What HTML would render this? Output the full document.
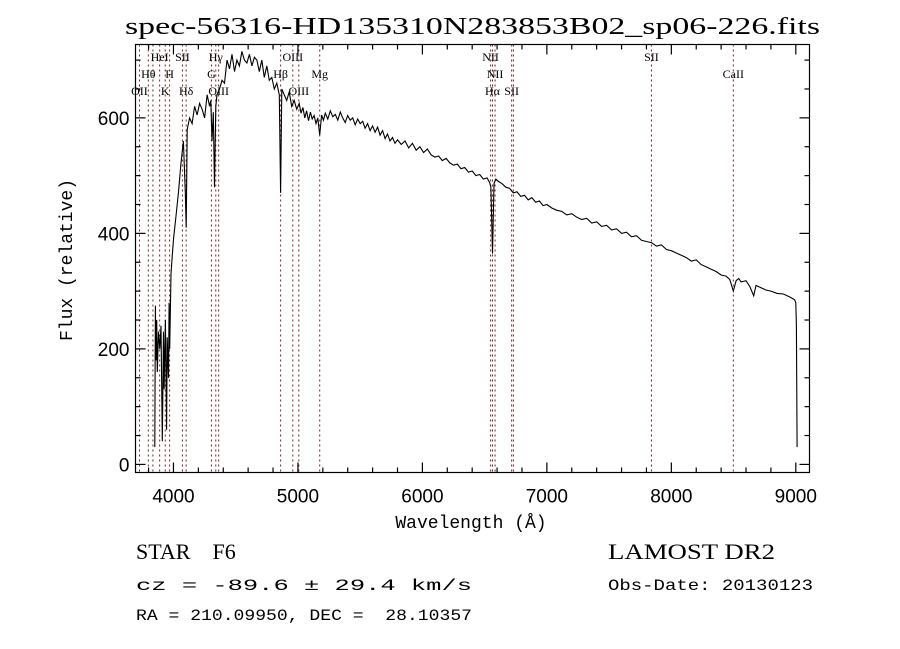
<!DOCTYPE html>
<html><head><meta charset="utf-8"><style>
html,body{margin:0;padding:0;background:#fff;width:900px;height:649px;overflow:hidden}
svg{display:block}
text{fill:#000;white-space:pre}
</style></head><body>
<svg id="chart" width="900" height="649" viewBox="0 0 900 649" xmlns="http://www.w3.org/2000/svg">
<rect width="900" height="649" fill="#fff"/>
<text x="125" y="34" font-family="Liberation Serif, serif" font-size="24" textLength="695" lengthAdjust="spacingAndGlyphs">spec-56316-HD135310N283853B02_sp06-226.fits</text>
<g id="lines"></g>
<g id="labels" font-family="Liberation Serif, serif" font-size="12"></g>
<path id="spec" fill="none" stroke="#000" stroke-width="1.1"/>
<rect x="135.5" y="44.5" width="674" height="428" fill="none" stroke="#000" stroke-width="1.2"/>
<g id="ticks" stroke="#000" stroke-width="1.2"></g>
<g id="ticklabels" font-family="Liberation Sans, sans-serif" font-size="19"></g>
<text x="471" y="528" text-anchor="middle" font-family="Liberation Mono, monospace" font-size="18">Wavelength (Å)</text>
<text transform="translate(72,260) rotate(-90)" text-anchor="middle" font-family="Liberation Mono, monospace" font-size="18">Flux (relative)</text>
<text x="136" y="559" font-family="Liberation Serif, serif" font-size="22" xml:space="preserve">STAR    F6</text>
<text x="136" y="590" font-family="Liberation Mono, monospace" font-size="16" textLength="336" lengthAdjust="spacingAndGlyphs">cz = -89.6 ± 29.4 km/s</text>
<text x="136" y="620" font-family="Liberation Mono, monospace" font-size="16" textLength="336" lengthAdjust="spacingAndGlyphs" xml:space="preserve">RA = 210.09950, DEC =  28.10357</text>
<text x="608" y="559" font-family="Liberation Serif, serif" font-size="22" textLength="167" lengthAdjust="spacingAndGlyphs">LAMOST DR2</text>
<text x="608" y="590" font-family="Liberation Mono, monospace" font-size="16" textLength="205" lengthAdjust="spacingAndGlyphs">Obs-Date: 20130123</text>
</svg>
<script>
const wavelengths=[3850,3855,3860,3865,3870,3880,3890,3900,3910,3920,3925,3935,3945,3950,3960,3965,3970,3980,3990,4000,4020,4040,4060,4080,4095,4102,4110,4130,4150,4170,4190,4210,4230,4250,4270,4290,4300,4310,4320,4330,4340,4350,4370,4390,4410,4430,4450,4470,4490,4510,4530,4550,4570,4590,4610,4630,4650,4670,4690,4710,4730,4750,4770,4790,4810,4830,4850,4861,4870,4890,4910,4930,4950,4970,4990,
5010,5025,5040,5055,5070,5085,5100,5115,5130,5145,
5160,5175,5190,5205,5220,5240,5260,5280,5300,5320,
5340,5360,5380,5400,5420,5440,5460,5480,5500,5520,
5540,5560,5580,5600,5620,5640,5660,5680,5700,5720,
5740,5760,5780,5800,5830,5860,5890,5920,5950,5980,
6010,6040,6070,6100,6130,6160,6190,6220,6250,6280,
6310,6340,6370,6400,6430,6460,6490,6520,
6540,6550,6563,6575,6590,6610,
6640,6670,6700,6730,6760,6790,6820,6850,6880,6910,
6940,6970,
7000,7040,7080,7120,7160,7200,7240,7280,7320,7360,
7400,7440,7480,7520,7560,7600,7640,7680,7720,7760,
7800,7840,7880,7920,7960,8000,8040,8080,8120,8160,
8200,8240,8280,8320,8360,8400,8440,
8470,8498,8520,8542,8560,8600,8630,8662,8680,8720,8760,8800,8850,8900,8950,8990,9000,9005,9010];
const fluxes=[30,275,180,250,160,230,200,240,40,230,130,250,60,220,150,280,200,330,360,390,430,470,520,560,470,410,580,600,590,620,605,625,615,600,640,620,630,560,610,480,620,640,650,665,660,700,685,710,680,700,690,715,700,695,710,690,705,700,680,700,670,690,665,670,650,660,640,470,650,640,630,645,620,630,615,
625,608,618,600,612,595,610,598,604,590,
600,570,605,596,608,598,612,602,606,596,
610,600,592,604,596,600,588,598,590,594,
582,590,578,586,575,584,570,578,564,572,
560,566,556,562,554,560,548,556,544,550,
540,546,536,532,534,526,530,522,518,520,
512,514,506,508,500,502,494,496,
488,480,365,486,494,490,
486,480,478,470,472,464,466,458,462,454,
456,448,
450,444,440,438,432,434,428,424,426,418,
420,412,414,406,408,400,402,394,396,388,
386,384,378,380,372,370,366,362,358,352,
354,346,342,338,334,328,326,
320,300,318,322,316,318,308,292,310,306,302,300,296,295,290,285,280,240,30];
const xTicks=[4000,5000,6000,7000,8000,9000];
const yTicks=[0,200,400,600];
const lineWaves=[3727,3798,3835,3889,3934,3969,4072,4102,4305,4340,4363,4861,4959,5007,5175,6548,6563,6584,6717,6731,7840,8498];
const lineLabelText=["OII","Hθ","","HeI","K","H","SII","Hδ","G","Hγ","OIII","Hβ","OIII","OIII","Mg","NII","Hα","NII","SII","","SII","CaII"];
const lineLabelRow=[2,1,0,0,2,1,0,2,1,0,2,1,0,2,1,0,2,1,2,0,0,1];

const X0=3695,X1=9110,Y0=-14,Y1=727,L=135.5,R=809.5,T=44.5,B=472.5;
const sx=w=>L+(w-X0)/(X1-X0)*(R-L);
const sy=f=>B-(f-Y0)/(Y1-Y0)*(B-T);
const NS="http://www.w3.org/2000/svg";
function mk(tag,parent){const e=document.createElementNS(NS,tag);parent.appendChild(e);return e;}

let d="";
const n=Math.min(wavelengths.length,fluxes.length);
for(let i=0;i<n;i++){d+=(i?"L":"M")+sx(wavelengths[i]).toFixed(1)+","+sy(fluxes[i]).toFixed(1);}
document.getElementById("spec").setAttribute("d",d);

const lg=document.getElementById("lines"),lb=document.getElementById("labels");
lineWaves.forEach((w,i)=>{
  const l=mk("line",lg);
  
  
  l.setAttribute("x1",sx(w));l.setAttribute("x2",sx(w));l.setAttribute("y1",T);l.setAttribute("y2",B);
  l.setAttribute("stroke","#7a2020");l.setAttribute("stroke-dasharray","2,3");l.setAttribute("stroke-width","1");
  if(lineLabelText[i]){
    const t=mk("text",lb);
    
    
    t.setAttribute("x",sx(w));t.setAttribute("y",61+lineLabelRow[i]*17);t.setAttribute("text-anchor","middle");
    t.textContent=lineLabelText[i];
  }
});

const tg=document.getElementById("ticks"),tl=document.getElementById("ticklabels");
function tick(x1,y1,x2,y2){const l=mk("line",tg);l.setAttribute("x1",x1);l.setAttribute("y1",y1);l.setAttribute("x2",x2);l.setAttribute("y2",y2);}
for(let w=3800;w<=9100;w+=200){const x=sx(w),maj=w%1000===0,len=maj?10:5;tick(x,B,x,B-len);tick(x,T,x,T+len);}
for(let f=0;f<=700;f+=50){const y=sy(f),maj=f%200===0,len=maj?10:5;tick(L,y,L+len,y);tick(R,y,R-len,y);}
xTicks.forEach(w=>{const t=mk("text",tl);
  
  
  t.setAttribute("x",sx(w));t.setAttribute("y",B+30);t.setAttribute("text-anchor","middle");t.textContent=w;});
yTicks.forEach(f=>{const t=mk("text",tl);
  
  
  t.setAttribute("x",L-6);t.setAttribute("y",sy(f)+7);t.setAttribute("text-anchor","end");t.textContent=f;});
</script>
</body></html>
